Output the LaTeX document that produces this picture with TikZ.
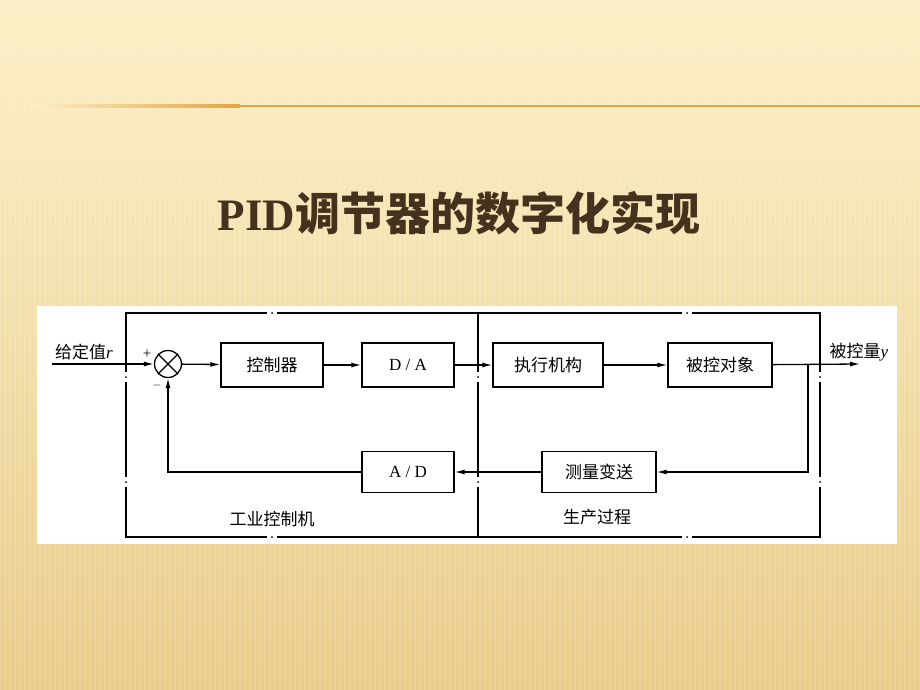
\documentclass[tikz,border=0pt]{standalone}
\usepackage{fontspec}
\setmainfont{Liberation Serif}
\newfontfamily\cjk{Noto Sans CJK SC}
\usetikzlibrary{arrows.meta}
\definecolor{bgtop}{HTML}{FDF0C8}
\definecolor{bgbot}{HTML}{E8CC8A}
\definecolor{rulecol}{HTML}{E0A543}
\definecolor{titlebrown}{HTML}{45321E}

\begin{document}
\begin{tikzpicture}[x=1pt,y=-1pt,
    block/.style = {shape = rectangle,
                    draw,
                    line width = 1.4pt,
                    inner sep = 0pt,
                    font = \fontsize{17}{20}\selectfont\cjk},
    sumnode/.style = {shape = circle,
                      draw,
                      line width = 1.3pt,
                      minimum size = 27pt,
                      inner sep = 0pt},
    lbl/.style = {inner sep = 0pt,
                  font = \fontsize{17}{20}\selectfont\cjk},
    sig/.style = {line width = 1.3pt, -{Latex[length=10pt,width=5pt]}},
    frm/.style = {line width = 1.6pt}]
    % slide background
    \useasboundingbox (0,0) rectangle (920,690);
    \shade[top color=bgtop, bottom color=bgbot] (0,0) rectangle (920,690);
    \foreach \x in {0,5,...,920}
        \draw[white, opacity=0.12, line width=1.5pt] (\x,40) -- (\x,690);
    \shade[left color=bgtop, right color=rulecol] (30,104.8) rectangle (240,107.2);
    \draw[rulecol, line width=2.4pt] (240,106) -- (920,106);
    % title
    \node[text=titlebrown, font=\fontsize{45}{50}\selectfont] (title) at (459,213)
        {\textbf{PID}{\cjk\bfseries 调节器的数字化实现}};
    % diagram panel
    \fill[white] (37,306) rectangle (897,544);
    \draw[frm] (126,313) rectangle (820,537);
    \draw[frm] (478,313) -- (478,537);
    \foreach \x/\y in {272/313, 687/313, 272/537, 687/537} {
        \fill[white] (\x-5,\y-2) rectangle (\x+5,\y+2);
        \fill (\x,\y) circle (1pt);
    }
    \foreach \x/\y in {126/377, 126/482, 478/377, 478/482, 820/377, 820/482} {
        \fill[white] (\x-2,\y-5) rectangle (\x+2,\y+5);
        \fill (\x,\y) circle (1pt);
    }
    % blocks
    \node[sumnode] (sum) at (168,364) {};
    \draw[line width=1.3pt] (sum.north west) -- (sum.south east)
                            (sum.north east) -- (sum.south west);
    \node[block, minimum width=102pt, minimum height=44pt] (ctrl) at (272,365) {控制器};
    \node[block, minimum width=92pt, minimum height=44pt,
          font=\fontsize{17}{20}\selectfont] (da) at (408,365) {D / A};
    \node[block, minimum width=110pt, minimum height=44pt] (act) at (548,365) {执行机构};
    \node[block, minimum width=104pt, minimum height=44pt] (plant) at (720,365) {被控对象};
    \node[block, minimum width=114pt, minimum height=41pt] (meas) at (599,472) {测量变送};
    \node[block, minimum width=92pt, minimum height=41pt,
          font=\fontsize{17}{20}\selectfont] (ad) at (408,472) {A / D};
    % signals
    \coordinate (in) at (52,364);
    \coordinate (out) at (860,364);
    \coordinate (tap) at (808,365);
    \node[lbl] (inlbl) at (84,352) {给定值{\rmfamily\itshape r}};
    \node[lbl] (outlbl) at (859,352) {被控量{\rmfamily\itshape y}};
    \node[font=\fontsize{15}{16}\selectfont] (plus) at (147,354) {+};
    \node[font=\fontsize{13}{14}\selectfont] (minus) at (157,385) {$-$};
    \draw[sig] (in) -- (sum);
    \draw[sig] (sum) -- (ctrl);
    \draw[sig] (ctrl) -- (da);
    \draw[sig] (da) -- (act);
    \draw[sig] (act) -- (plant);
    \draw[sig] (plant) -- (out);
    \draw[sig] (tap) |- (meas);
    \draw[sig] (meas) -- (ad);
    \draw[sig] (ad) -| (sum);
    % regions
    \node[lbl] (pc) at (272,519) {工业控制机};
    \node[lbl] (proc) at (597,517) {生产过程};
\end{tikzpicture}
\end{document}
